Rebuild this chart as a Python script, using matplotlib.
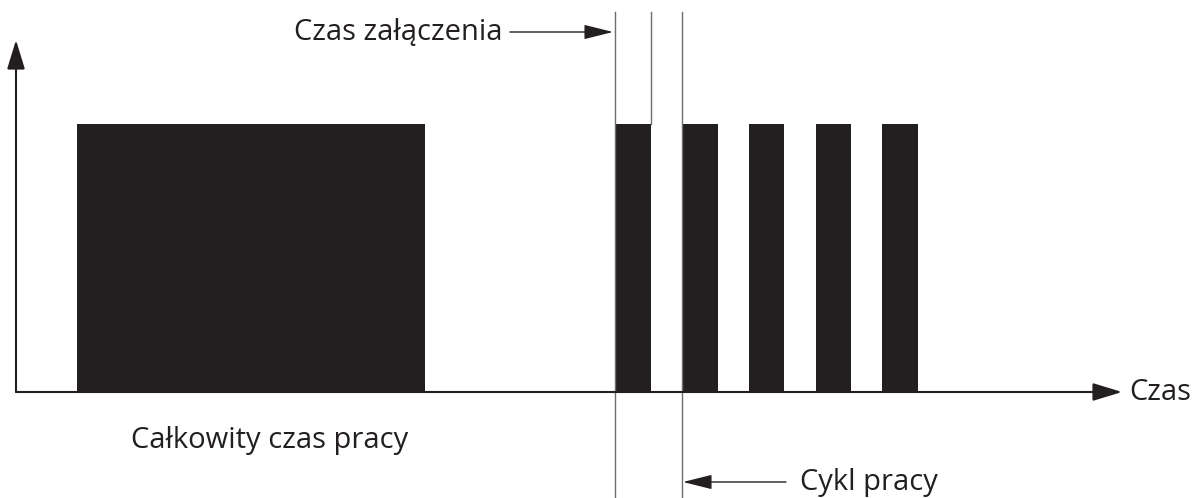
import matplotlib.pyplot as plt
from matplotlib.patches import Rectangle

# on-off pulses (start, end) in time units, height in signal units
block_starts = [77, 615, 682, 749, 816, 882]
block_ends = [425, 651, 718, 784, 851, 918]
block_height = 268

# reference lines for the cycle / on-time markers
marker_x = [615, 651, 682]
marker_top = [380, 380, 380]
marker_bottom = [-106, 268, -106]

labels = ["Czas załączenia", "Cykl pracy", "Całkowity czas pracy", "Czas"]

fig = plt.figure(figsize=(11.92, 4.98), dpi=100)
ax = fig.add_axes([0, 0, 1, 1])
ax.set_xlim(-16, 1176)
ax.set_ylim(-106, 392)
ax.axis('off')

dark = '#231f20'
plt.rcParams['font.family'] = ['Open Sans', 'DejaVu Sans']

for s, e in zip(block_starts, block_ends):
    ax.add_patch(Rectangle((s - 16, 0), e - s, block_height, color=dark, lw=0))

for x, t, b in zip(marker_x, marker_top, marker_bottom):
    ax.plot([x - 16, x - 16], [b, t], color='#6d6d6d', lw=1)

# axes with arrow heads
arrow = dict(arrowstyle='-|>,head_length=1.8,head_width=0.55', color=dark, lw=1.5,
             shrinkA=0, shrinkB=0)
ax.annotate('', xy=(1106, 0), xytext=(0, 0), arrowprops=arrow)
ax.annotate('', xy=(0, 352), xytext=(0, 0), arrowprops=arrow)

thin = dict(arrowstyle='-|>,head_length=1.8,head_width=0.45', color=dark, lw=1,
            shrinkA=0, shrinkB=0)
ax.annotate('', xy=(597, 360), xytext=(494, 360), arrowprops=thin)
ax.annotate('', xy=(667, -90), xytext=(770, -90), arrowprops=thin)

fs = 21
ax.text(486, 360, labels[0], fontsize=fs, color=dark, ha='right', va='center')
ax.text(784, -90, labels[1], fontsize=fs, color=dark, ha='left', va='center')
ax.text(254, -48, labels[2], fontsize=fs, color=dark, ha='center', va='center')
ax.text(1113, 0, labels[3], fontsize=fs, color=dark, ha='left', va='center')

fig.savefig('out.png', dpi=100)
